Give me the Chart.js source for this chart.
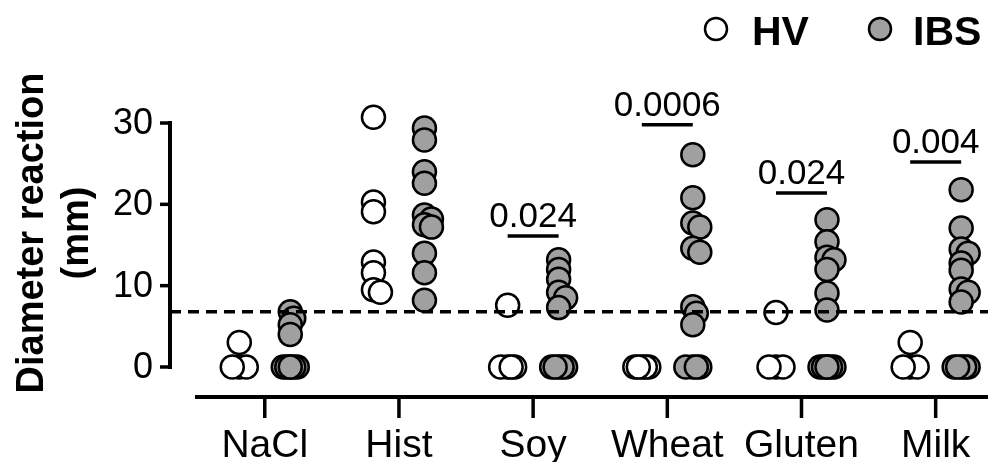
<!DOCTYPE html>
<html>
<head>
<meta charset="utf-8">
<script src="https://cdn.jsdelivr.net/npm/chart.js@4.4.1/dist/chart.umd.min.js"></script>
<style>
  html, body { margin: 0; padding: 0; background: #fff; }
  #wrap { width: 988px; height: 462px; }
</style>
</head>
<body>
<div id="wrap"><canvas id="chart-scatter"></canvas></div>
<script>
var categories = ["NaCl", "Hist", "Soy", "Wheat", "Gluten", "Milk"];

// Healthy volunteers, one list per category
var hvValues = [
    [3, 0, 0, 0],
    [30.7, 20.3, 19.1, 12.9, 11.6, 9.5, 9.2],
    [7.6, 0, 0, 0, 0],
    [0, 0, 0, 0, 0],
    [6.7, 0, 0, 0],
    [3, 0, 0, 0]
];

// IBS patients
var ibsValues = [
    [6.8, 6, 5.2, 4, 0, 0, 0, 0, 0, 0],
    [29.4, 27.9, 24, 22.6, 18.7, 18.2, 17.5, 17.2, 14, 11.6, 8.2],
    [13.2, 12, 10.8, 9.2, 8.5, 7.3, 0, 0, 0, 0, 0],
    [26.1, 20.8, 17.7, 17.2, 14.6, 14.1, 7.4, 6.6, 5.2, 0, 0, 0, 0],
    [18.1, 15.4, 13.5, 13.2, 12, 9.1, 7, 0, 0, 0, 0, 0, 0],
    [21.8, 17.1, 14.5, 14, 12.8, 11.9, 9.6, 9.2, 8, 0, 0, 0, 0, 0]
];

var pLabels = [null, null, "0.024", "0.0006", "0.024", "0.004"];
var pBarLevels = [null, null, 16.1, 29.8, 21.4, 25.2];
var yTicks = [0, 10, 20, 30];
var cutoff = 6.8;

var groupOffset = 0.19;
var FONT = "'Liberation Sans', Arial, sans-serif";

// simple swarm so overlapping dots get nudged sideways (px based)
function swarm(vals, centre) {
    var placed = [];
    var steps = [0, 1, -1, 2, -2];
    vals.forEach(function (v) {
        var best = 0, bestGap = -1;
        for (var s = 0; s < steps.length; s++) {
            var dx = steps[s] * 3.5;
            var gap = Infinity;
            placed.forEach(function (p) {
                var d = Math.hypot(p.dx - dx, (p.v - v) * 8.13);
                if (d < gap) gap = d;
            });
            if (gap >= 7) { best = dx; break; }
            if (gap > bestGap) { bestGap = gap; best = dx; }
        }
        placed.push({ dx: best, v: v });
    });
    return placed.map(function (p) {
        return { x: centre + p.dx / 134.2, y: p.v };
    });
}

var hvPoints = [], ibsPoints = [];
categories.forEach(function (c, i) {
    hvPoints = hvPoints.concat(swarm(hvValues[i], i - groupOffset));
    ibsPoints = ibsPoints.concat(swarm(ibsValues[i], i + groupOffset));
});

var decorPlugin = {
    id: "decor",
    afterDatasetsDraw: function (chart) {
        var c = chart.ctx;
        var xs = chart.scales.x, ys = chart.scales.y;
        var area = chart.chartArea;
        var axisX = area.left - 25;

        c.save();
        c.strokeStyle = "#000";
        c.fillStyle = "#000";

        // cutoff dashed line
        var yc = ys.getPixelForValue(cutoff);
        c.setLineDash([11, 7]);
        c.lineWidth = 3.5;
        c.beginPath();
        c.moveTo(axisX, yc);
        c.lineTo(area.right, yc);
        c.stroke();
        c.setLineDash([]);

        // y axis
        var y0 = ys.getPixelForValue(yTicks[0]);
        var y1 = ys.getPixelForValue(yTicks[yTicks.length - 1]);
        c.lineWidth = 4;
        c.beginPath();
        c.moveTo(axisX, y0 + 2);
        c.lineTo(axisX, y1 - 2);
        c.stroke();
        c.font = "36px " + FONT;
        c.textAlign = "right";
        c.textBaseline = "middle";
        c.lineWidth = 3.5;
        yTicks.forEach(function (t) {
            var y = ys.getPixelForValue(t);
            c.beginPath();
            c.moveTo(axisX - 10, y);
            c.lineTo(axisX, y);
            c.stroke();
            c.fillText(String(t), axisX - 17, y + 1);
        });

        // x axis
        c.lineWidth = 4;
        c.beginPath();
        c.moveTo(area.left, area.bottom);
        c.lineTo(area.right, area.bottom);
        c.stroke();
        c.font = "39px " + FONT;
        c.textAlign = "center";
        c.textBaseline = "alphabetic";
        c.lineWidth = 3.5;
        categories.forEach(function (cat, i) {
            var x = xs.getPixelForValue(i);
            c.beginPath();
            c.moveTo(x, area.bottom);
            c.lineTo(x, area.bottom + 21);
            c.stroke();
            c.fillText(cat, x, 457);
        });

        // p values
        c.font = "35px " + FONT;
        pLabels.forEach(function (p, i) {
            if (!p) return;
            var yb = ys.getPixelForValue(pBarLevels[i]);
            c.lineWidth = 3.5;
            c.beginPath();
            c.moveTo(xs.getPixelForValue(i - groupOffset), yb);
            c.lineTo(xs.getPixelForValue(i + groupOffset), yb);
            c.stroke();
            c.fillText(p, xs.getPixelForValue(i), yb - 9);
        });

        // y axis title
        c.save();
        c.translate(0, 233);
        c.rotate(-Math.PI / 2);
        c.font = "bold 38px " + FONT;
        c.textAlign = "center";
        c.textBaseline = "middle";
        c.fillText("Diameter reaction", 0, 33);
        c.fillText("(mm)", 0, 78);
        c.restore();

        // legend
        var legend = [
            { label: "HV", fill: "#ffffff", cx: 716, tx: 752 },
            { label: "IBS", fill: "rgb(160,160,160)", cx: 880, tx: 913 }
        ];
        c.font = "bold 41px " + FONT;
        c.textAlign = "left";
        c.textBaseline = "alphabetic";
        legend.forEach(function (l) {
            c.beginPath();
            c.arc(l.cx, 29, 11, 0, Math.PI * 2);
            c.fillStyle = l.fill;
            c.fill();
            c.lineWidth = 2.5;
            c.stroke();
            c.fillStyle = "#000";
            c.fillText(l.label, l.tx, 45);
        });

        c.restore();
    }
};

var ctx = document.getElementById("chart-scatter").getContext("2d");

new Chart(ctx, {
    type: "scatter",
    data: {
        datasets: [
            {
                label: "HV",
                data: hvPoints,
                backgroundColor: "#ffffff",
                borderColor: "#000000",
                borderWidth: 2.5,
                pointRadius: 11.5,
                pointHoverRadius: 11.5
            },
            {
                label: "IBS",
                data: ibsPoints,
                backgroundColor: "rgb(160, 160, 160)",
                borderColor: "#000000",
                borderWidth: 2.5,
                pointRadius: 11.5,
                pointHoverRadius: 11.5
            }
        ]
    },
    options: {
        responsive: true,
        maintainAspectRatio: false,
        animation: false,
        layout: {
            autoPadding: false,
            padding: { left: 195, right: 0, top: 100, bottom: 65 }
        },
        plugins: {
            legend: { display: false },
            tooltip: { enabled: false }
        },
        scales: {
            x: { type: "linear", min: -0.52, max: 5.39, display: false },
            y: { min: -3.69, max: 32.83, display: false }
        }
    },
    plugins: [decorPlugin]
});
</script>
</body>
</html>
